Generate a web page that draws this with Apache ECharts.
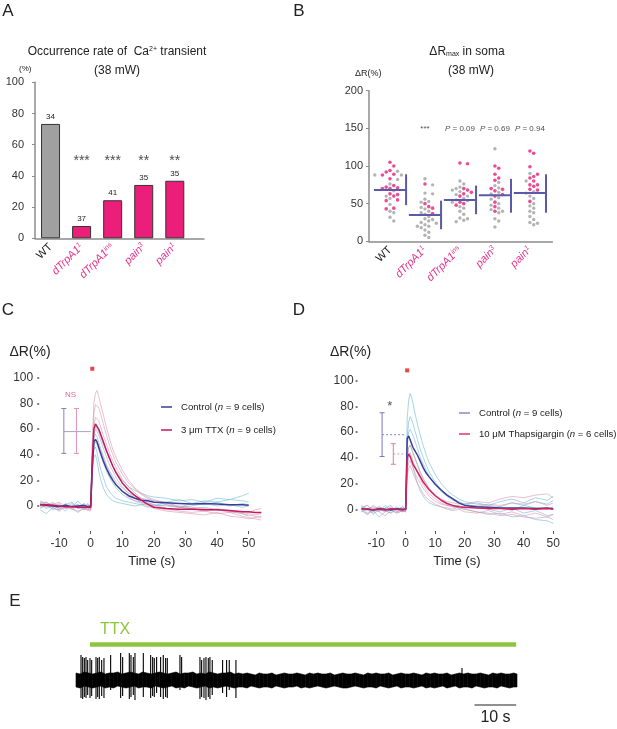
<!DOCTYPE html>
<html>
<head>
<meta charset="utf-8">
<script src="https://cdn.jsdelivr.net/npm/echarts@6/dist/echarts.min.js"></script>
<style>
html, body { margin: 0; padding: 0; background: #fff; }
#main { width: 617px; height: 729px; }
</style>
</head>
<body>
<div id="main"></div>
<script>
const FONT = 'Liberation Sans, Arial, sans-serif';
const PINK = '#e4358c';

// ---------- A: occurrence rate ----------
const genoName = ['WT', 'dTrpA1', 'dTrpA1', 'pain', 'pain'];
const genoSup = ['', '1', 'ins', '3', '1'];
const rateA = [73.3, 7.9, 24.4, 34.2, 36.9];
const nA = [34, 37, 41, 35, 35];
const sigA = ['', '***', '***', '**', '**'];
const sigLevelA = 49.5;

// ---------- B: dR max in soma ----------
const pinkB = [
	[105, 100, 94, 92, 89, 88, 83, 74, 72, 71, 70, 70, 63, 62, 60, 55, 54, 44, 43],
	[76, 50, 46, 44, 37],
	[104, 103, 70, 68, 65, 63, 60, 52, 50, 48],
	[100, 97, 89, 84, 81, 70, 69, 67, 62, 60, 52, 46, 40],
	[120, 117, 99, 89, 86, 84, 80, 75, 75, 73, 69, 68, 53]
];
const grayB = [
	[93, 88, 88, 82, 76, 67, 60, 57, 49, 40, 38, 32, 27],
	[83, 75, 64, 63, 56, 53, 52, 45, 43, 40, 38, 36, 33, 30, 29, 27, 25, 24, 22, 20, 20, 18, 15, 12, 8, 5],
	[80, 76, 72, 70, 68, 66, 62, 60, 57, 55, 54, 52, 46, 44, 40, 36, 31, 30, 28, 26],
	[123, 78, 74, 71, 65, 63, 58, 56, 50, 48, 44, 42, 40, 38, 30, 27, 19],
	[90, 80, 66, 64, 60, 57, 50, 47, 44, 40, 38, 33, 29, 25, 24, 22]
];
const meanB = [68, 35, 55, 61, 64];
const sdLoB = [48, 16, 36, 38, 38];
const sdHiB = [89, 54, 74, 83, 89];
const pLabelB = ['', '***', '0.09', '0.69', '0.94'];
const pLevelB = 150;

// ---------- C: TTX traces ----------
const T_C = [-16, -14, -12, -10, -8, -6, -4, -2, -1, 0, 0.5, 1, 1.5, 2, 2.5, 3, 4, 5, 6, 7, 8, 10, 12, 14, 16, 18, 20, 24, 28, 32, 36, 40, 44, 48, 50, 52, 54];
const C_ctrlMean = [1, 0.5, 0, -0.5, 0.5, -0.5, 0, 0.5, -0.5, 0, 30, 50, 52, 50, 46, 42, 35, 29, 24, 20, 16.5, 11.5, 8, 6, 4.5, 4, 3, 2.5, 2, 1.5, 2, 1.5, 1, 1, 0.5, null, null];
const C_ttxMean = [1, 1, 0.5, 0, -0.5, -0.5, -1, -1, -1, -1, 35, 60, 64, 63, 60, 57, 50, 43, 37, 31, 26, 18, 12.5, 8, 4.5, 1.5, -1, -2, -2.5, -2.5, -3, -3, -3.5, -4.5, -4.5, -5, -5];
const C_ctrlCells = [
	[3, -2, 1, -3, 2, -1, 4, -2, 1, 0, 28, 44, 46, 42, 36, 30, 22, 15, 11, 8, 6, 4, 3, 2, 1, 2, 0, 3, -1, 2, 1, 3, 0, 2, 1, null, null],
	[-2, 1, -3, 0, -4, 1, -2, 0, -1, 1, 34, 53, 56, 54, 50, 46, 39, 32, 27, 23, 19, 14, 10, 8, 6, 5, 4, 3, 5, 2, 4, 3, 5, 4, 3, null, null],
	[2, 0, 3, -1, 1, 3, -1, 2, 0, -1, 38, 58, 62, 61, 58, 55, 48, 42, 36, 31, 27, 20, 15, 12, 10, 8, 7, 6, 4, 5, 3, 6, 5, 8, 10, null, null],
	[0, 3, -1, 2, -2, 0, 1, -3, 2, 0, 30, 47, 50, 48, 45, 41, 34, 27, 22, 18, 14, 9, 6, 4, 3, 2, 1, 0, -1, -2, -1, -3, -4, -6, -8, null, null],
	[-3, -6, -1, -4, 0, -2, -5, -1, -3, -2, 25, 38, 40, 35, 28, 22, 14, 9, 6, 4, 3, 2, 1, 0, 1, -1, 0, 1, -1, 0, 2, 0, 1, -1, 0, null, null]
];
const C_ttxCells = [
	[4, 2, 1, 3, 0, -1, 1, -2, 0, -1, 50, 80, 88, 90, 86, 81, 71, 61, 52, 44, 38, 28, 20, 14, 10, 7, 5, 2, 0, -1, -2, -3, -4, -6, -7, -8, -9],
	[2, 3, 0, 1, -2, 0, -1, -3, -2, -2, 45, 72, 79, 80, 77, 73, 64, 55, 47, 40, 34, 25, 18, 13, 9, 6, 4, 1, -1, -2, -3, -2, -4, -5, -6, -7, -6],
	[0, -1, 2, -2, 1, -3, 0, -1, -3, -2, 40, 63, 69, 70, 67, 63, 55, 48, 41, 35, 30, 21, 15, 10, 6, 3, 1, -2, -4, -5, -4, -6, -5, -8, -9, -10, -11],
	[3, 1, -1, 0, -1, 2, -2, 0, -1, -3, 35, 55, 60, 59, 56, 52, 45, 38, 32, 27, 22, 15, 10, 6, 3, 1, -1, -3, -3, -2, -4, -3, -5, -4, -5, -3, -2],
	[-1, 0, -2, -3, -1, -2, -4, -2, -3, -4, 30, 47, 52, 51, 48, 44, 37, 31, 26, 21, 17, 11, 7, 4, 2, 0, -2, -4, -5, -6, -7, -5, -8, -9, -10, -9, -8]
];
// error bars: [time, low, high]
const C_errCtrl = [[-8.5, 41, 76]];
const C_errTtx = [[-4.5, 41, 76]];
const C_meanLink = [[-8.5, 58], [0, 58]];
const C_stim = [[0.5, 107]];
const C_note = [[-6.4, 87]];
const timeTicks = [-10, 0, 10, 20, 30, 40, 50];
const dRTicks = [0, 20, 40, 60, 80, 100];

// ---------- D: Thapsigargin traces ----------
const T_D = [-15, -13, -11, -9, -7, -5, -3, -1, 0, 0.5, 1, 1.5, 2, 2.5, 3, 4, 5, 6, 7, 8, 10, 12, 14, 16, 18, 20, 24, 28, 32, 36, 40, 44, 48, 50];
const D_ctrlMean = [0.5, 0, -0.5, 0.5, 0, -0.5, 0.5, 0, 0, 55, 57, 54, 51, 48, 46, 42, 37, 32, 28, 25, 19.5, 15, 11, 8, 5, 3, 2, 1.5, 1, 1, 1, 0.5, 1, 0.5];
const D_thapMean = [0, 0.5, -0.5, 0, -0.5, 0.5, 0, -0.5, 0, 40, 43, 41, 38, 35, 33, 29, 25, 21, 18, 15, 10.5, 7, 4.5, 3, 2, 1.5, 1, 0.5, 0.5, 0, 0.5, 0, 0.5, 0];
const D_ctrlCells = [
	[2, -3, 1, -2, 3, -1, 0, 2, 0, 70, 85, 90, 87, 82, 76, 66, 57, 49, 42, 36, 27, 20, 15, 11, 8, 6, 4, 3, 2, 5, 3, 6, 4, 7],
	[-2, 1, -4, 0, -1, -3, 1, -2, -1, 55, 68, 72, 70, 66, 62, 54, 46, 40, 34, 29, 21, 15, 11, 8, 6, 4, 2, 0, -2, 1, -3, -1, -5, -4],
	[3, 0, 2, -1, 1, 3, -2, 1, 0, 48, 60, 62, 60, 57, 54, 47, 40, 35, 30, 26, 19, 14, 10, 7, 5, 4, 5, 3, 6, 8, 5, 9, 7, 10],
	[0, -4, -1, -6, -2, 0, -3, -1, -2, 40, 48, 50, 47, 44, 41, 35, 29, 24, 20, 16, 11, 7, 4, 2, 1, 0, -2, -4, -3, -6, -5, -8, -9, -11],
	[1, 3, -2, 2, 0, -1, 2, -2, 1, 34, 40, 42, 38, 33, 28, 20, 14, 10, 7, 5, 3, 2, 1, 0, 2, 1, 3, 0, 2, -1, 3, 1, 0, 2]
];
const D_thapCells = [
	[2, -1, 3, 0, -2, 1, -1, 2, 0, 40, 48, 50, 47, 43, 40, 34, 28, 23, 19, 16, 11, 8, 6, 5, 4, 4, 6, 5, 8, 10, 9, 11, 12, 9],
	[-2, 0, -3, 1, -1, -3, 0, -2, -1, 35, 42, 44, 41, 37, 34, 28, 23, 19, 15, 12, 8, 5, 3, 2, 1, 0, -2, -3, -5, -4, -6, -7, -6, -8],
	[1, 3, 0, 2, -1, 2, -2, 0, 1, 30, 36, 38, 35, 32, 29, 24, 20, 16, 13, 10, 6, 4, 3, 2, 3, 1, 2, 4, 3, 5, 4, 6, 3, 5],
	[-1, -4, 0, -2, -5, -1, -3, -1, -2, 26, 32, 34, 31, 28, 25, 20, 16, 12, 9, 7, 4, 2, 0, -1, 0, -2, -3, -1, -4, -2, -5, -3, -6, -4]
];
const D_errCtrl = [[-8, 41, 75]];
const D_errThap = [[-4.2, 35, 51]];
const D_linkCtrl = [[-8, 58], [0, 58]];
const D_linkThap = [[-4.2, 43], [0, 43]];
const D_stim = [[0.5, 108]];
const D_note = [[-5.4, 80]];

// ---------- E: extracellular recording ----------
const E_T = [
	0, 1, 2, 3, 4, 5, 6, 7, 8, 9, 10, 11, 12, 13, 14, 15, 16, 17, 18, 19,
	20, 21, 22, 23, 24, 25, 26, 27, 28, 29, 30, 31, 32, 33, 34, 35, 36, 37, 38, 39,
	40, 41, 42, 43, 44, 45, 46, 47, 48, 49, 50, 51, 52, 53, 54, 55, 56, 57, 58, 59,
	60, 61, 62, 63, 64, 65, 66, 67, 68, 69, 70, 71, 72, 73, 74, 75, 76, 77, 78, 79,
	80, 81, 82, 83, 84, 85, 86, 87, 88, 89, 90, 91, 92, 93, 94, 95, 96, 97, 98, 99,
	100, 101, 102, 103, 104, 105, 105.8
];
const E_hi = [
	7, 6, 8, 7, 6, 7, 8, 6, 7, 7, 8, 6, 7, 8, 7, 6, 8, 7, 6, 7,
	8, 7, 6, 7, 8, 6, 7, 7, 8, 6, 7, 6, 8, 7, 6, 7, 7, 8, 6, 7,
	6, 7, 6, 5, 7, 6, 6, 7, 5, 6, 7, 6, 6, 7, 6, 5, 7, 6, 7, 6,
	6, 7, 5, 6, 7, 6, 6, 7, 6, 5, 7, 6, 7, 6, 6, 7, 5, 6, 7, 6,
	6, 7, 6, 5, 7, 6, 7, 6, 6, 7, 5, 6, 7, 6, 7, 6, 6, 7, 6, 5,
	7, 6, 7, 6, 6, 7, 6
];
const E_lo = [
	-7, -8, -6, -7, -8, -7, -6, -8, -7, -8, -6, -7, -8, -7, -6, -8, -7, -7, -8, -6,
	-7, -8, -7, -6, -8, -7, -8, -6, -7, -8, -7, -6, -8, -7, -8, -7, -6, -7, -8, -7,
	-7, -8, -6, -7, -8, -7, -7, -8, -6, -7, -8, -7, -7, -6, -8, -7, -8, -7, -6, -7,
	-8, -7, -6, -7, -8, -8, -7, -6, -7, -8, -7, -7, -8, -6, -7, -8, -7, -6, -8, -7,
	-7, -8, -7, -6, -8, -7, -8, -7, -6, -8, -7, -6, -8, -7, -7, -8, -6, -7, -8, -7,
	-7, -8, -6, -7, -8, -7, -7
];
// spikes: [time (s), trough, peak]
const E_spikes = [
	[1.20, -18, 25], [1.60, -19, 23], [2.00, -17, 22], [2.40, -18, 23], [2.80, -15, 20],
	[3.36, -18, 22], [3.76, -16, 20], [4.80, -19, 23], [5.20, -17, 22], [5.59, -19, 23],
	[6.16, -16, 20], [6.71, -18, 22], [8.31, -10, 25], [10.71, -18, 27], [11.19, -16, 23],
	[12.79, -19, 27], [13.19, -17, 25], [13.75, -15, 23], [14.15, -20, 27], [16.15, -17, 27],
	[17.91, -18, 25], [18.39, -16, 23], [18.78, -17, 22], [19.34, -13, 23], [20.30, -17, 23],
	[20.94, -19, 25], [21.50, -17, 22], [21.90, -18, 22], [24.94, -10, 25], [25.34, -7, 23],
	[29.74, -19, 23], [30.14, -17, 20], [30.70, -18, 22], [31.18, -20, 23], [31.74, -17, 22],
	[32.13, -19, 23], [32.69, -15, 20], [35.17, -13, 20], [36.13, -17, 20], [36.77, -10, 20],
	[38.37, -18, 20], [92.6, -6, 12]
];
const E_drug = [[3.36, 35.5], [105.6, 35.5]];
const E_scale = [[95.6, -25], [105.6, -25]];

// ---------- helpers ----------
const genoLabel = function (i) {
	if (i === 0) {
		return '{w|WT}';
	}
	return '{g|' + genoName[i] + '}{s|' + genoSup[i] + '}';
};

const genoRich = {
	w: { color: '#222', fontSize: 11, fontFamily: FONT },
	g: { color: PINK, fontSize: 11, fontStyle: 'italic', fontFamily: FONT },
	s: { color: PINK, fontSize: 7, fontStyle: 'italic', fontFamily: FONT, verticalAlign: 'top', padding: [0, 0, 5, 0] }
};

// bee swarm (pixel based): B axis is ~35 px per group, ~0.753 px per %
const swarm = function (ci, pink, gray) {
	const pts = pink.map(v => ({ v: v, pink: true })).concat(gray.map(v => ({ v: v, pink: false })));
	pts.sort((a, b) => b.v - a.v);
	const placed = [];
	const step = 3.8, minD = 3.9;
	pts.forEach(p => {
		const py = p.v * 0.753;
		for (let n = 0; n < 20; n++) {
			const k = n === 0 ? 0 : (n % 2 ? (n + 1) / 2 : -n / 2);
			const px = k * step;
			const ok = placed.every(q => (q.px - px) * (q.px - px) + (q.py - py) * (q.py - py) >= minD * minD);
			if (ok) {
				p.px = px;
				p.py = py;
				placed.push(p);
				break;
			}
		}
		p.x = ci + p.px / 35;
	});
	return pts;
};

const pinkDots = [];
const grayDots = [];
pinkB.forEach((arr, ci) => {
	swarm(ci, arr, grayB[ci]).forEach(p => {
		(p.pink ? pinkDots : grayDots).push([p.x, p.v]);
	});
});

const trace = function (ai, T, arr, color, width, name, z) {
	return {
		type: 'line',
		name: name,
		xAxisIndex: ai,
		yAxisIndex: ai,
		data: T.map((t, i) => [t, arr[i]]),
		showSymbol: false,
		symbol: 'none',
		silent: true,
		lineStyle: { color: color, width: width },
		itemStyle: { color: color },
		z: z
	};
};

const errBar = function (ai, data, color) {
	return {
		type: 'custom',
		xAxisIndex: ai,
		yAxisIndex: ai,
		data: data,
		silent: true,
		z: 5,
		renderItem: function (params, api) {
			const x = api.value(0);
			const a = api.coord([x, api.value(1)]);
			const b = api.coord([x, api.value(2)]);
			const s = { stroke: color, lineWidth: 1 };
			return {
				type: 'group',
				children: [
					{ type: 'line', shape: { x1: a[0], y1: a[1], x2: b[0], y2: b[1] }, style: s },
					{ type: 'line', shape: { x1: a[0] - 2.5, y1: a[1], x2: a[0] + 2.5, y2: a[1] }, style: s },
					{ type: 'line', shape: { x1: b[0] - 2.5, y1: b[1], x2: b[0] + 2.5, y2: b[1] }, style: s }
				]
			};
		}
	};
};

const note = function (ai, data, text, color, size) {
	return {
		type: 'scatter',
		xAxisIndex: ai,
		yAxisIndex: ai,
		data: data,
		symbolSize: 0,
		silent: true,
		label: { show: true, position: 'inside', formatter: text, color: color, fontSize: size, fontFamily: FONT }
	};
};

const text = function (x, y, str, size, extra) {
	return {
		type: 'text',
		x: x,
		y: y,
		style: Object.assign({
			text: str,
			fontSize: size,
			fontFamily: FONT,
			fill: '#222',
			align: 'center',
			verticalAlign: 'middle',
			textAlign: 'center',
			textVerticalAlign: 'middle'
		}, extra || {})
	};
};

// ---------- axes ----------
const catAxis = function (gi, min, max) {
	return {
		type: 'value', gridIndex: gi, min: min, max: max,
		axisLine: { show: true, onZero: false, lineStyle: { color: '#8c8c8c', width: 1.5 } },
		axisTick: { show: false },
		splitLine: { show: false },
		axisLabel: {
			customValues: [0, 1, 2, 3, 4],
			rotate: 45, margin: 7,
			formatter: v => genoLabel(Math.round(v)),
			rich: genoRich
		}
	};
};

const timeAxis = function (gi, min, max) {
	return {
		type: 'value', gridIndex: gi, min: min, max: max,
		axisLine: { show: false, onZero: false },
		axisTick: { show: true, length: 3, customValues: timeTicks, lineStyle: { color: '#555' } },
		axisLabel: { customValues: timeTicks, fontSize: 12, color: '#333', margin: 7, fontFamily: FONT },
		splitLine: { show: false },
		name: 'Time (s)', nameLocation: 'middle', nameGap: 24,
		nameTextStyle: { fontSize: 13, color: '#222', fontFamily: FONT }
	};
};

const dRAxis = function (gi, min, max, margin) {
	return {
		type: 'value', gridIndex: gi, min: min, max: max,
		axisLine: { show: false, onZero: false },
		axisTick: { show: true, length: 2, customValues: dRTicks, lineStyle: { color: '#555', width: 1.5 } },
		axisLabel: { customValues: dRTicks, fontSize: 12, color: '#333', margin: margin, fontFamily: FONT },
		splitLine: { show: false }
	};
};

const legendNames = {
	cCtrl: '{t|Control (}{i|n}{t| = 9 cells)}',
	cTtx: '{t|3 μm TTX (}{i|n}{t| = 9 cells)}',
	dCtrl: '{t|Control (}{i|n}{t| = 9 cells)}',
	dThap: '{t|10 μM Thapsigargin (}{i|n}{t| = 6 cells)}'
};
const legendRich = {
	t: { fontSize: 9.6, color: '#222', fontFamily: FONT },
	i: { fontSize: 9.6, color: '#222', fontStyle: 'italic', fontFamily: FONT }
};

const chart = echarts.init(document.getElementById('main'));

const options = {
	animation: false,
	backgroundColor: '#fff',
	textStyle: { fontFamily: FONT },
	grid: [
		{ left: 35, top: 82.3, width: 169, height: 156, outerBoundsMode: 'none' },
		{ left: 369, top: 90.7, width: 183.3, height: 150.6, outerBoundsMode: 'none' },
		{ left: 39.2, top: 364.9, width: 225.3, height: 166.1, outerBoundsMode: 'none' },
		{ left: 357.6, top: 367.8, width: 198.6, height: 163.2, outerBoundsMode: 'none' },
		{ left: 76, top: 620, width: 441, height: 105, outerBoundsMode: 'none' }
	],
	xAxis: [
		catAxis(0, -0.5, 4.94),
		catAxis(1, -0.6, 4.64),
		timeAxis(2, -16.3, 55),
		timeAxis(3, -16.3, 51),
		{ type: 'value', gridIndex: 4, min: 0, max: 105.8, show: false }
	],
	yAxis: [
		{
			type: 'value', gridIndex: 0, min: 0, max: 100, interval: 20,
			axisLine: { show: true, onZero: false, lineStyle: { color: '#8c8c8c', width: 1.5 } },
			axisTick: { show: true, length: 3, lineStyle: { color: '#8c8c8c' } },
			axisLabel: { fontSize: 11, color: '#333', margin: 11, fontFamily: FONT },
			splitLine: { show: false }
		},
		{
			type: 'value', gridIndex: 1, min: 0, max: 200, interval: 50,
			axisLine: { show: true, onZero: false, lineStyle: { color: '#8c8c8c', width: 1.5 } },
			axisTick: { show: true, length: 3, lineStyle: { color: '#8c8c8c' } },
			axisLabel: { fontSize: 11, color: '#333', margin: 6, fontFamily: FONT },
			splitLine: { show: false }
		},
		dRAxis(2, -19.5, 110, 6),
		dRAxis(3, -16.9, 110, 4),
		{ type: 'value', gridIndex: 4, min: -45, max: 60, show: false }
	],
	legend: [
		{
			left: 161, top: 402, orient: 'vertical', padding: 0, itemGap: 13,
			icon: 'rect', itemWidth: 11, itemHeight: 1.5,
			data: ['cCtrl', 'cTtx'],
			formatter: name => legendNames[name],
			textStyle: { rich: legendRich, padding: [0, 0, 0, 4] }
		},
		{
			left: 459, top: 408, orient: 'vertical', padding: 0, itemGap: 11,
			icon: 'rect', itemWidth: 11, itemHeight: 1.5,
			data: [
				{ name: 'dCtrl', itemStyle: { color: '#8a88c8' } },
				{ name: 'dThap', itemStyle: { color: '#d63a6a' } }
			],
			formatter: name => legendNames[name],
			textStyle: { rich: legendRich, padding: [0, 0, 0, 4] }
		}
	],
	graphic: [
		text(8, 11, 'A', 17),
		text(299, 11, 'B', 17),
		text(8, 310, 'C', 17),
		text(299, 310, 'D', 17),
		text(15, 601, 'E', 17),
		text(117, 51.7, '{t|Occurrence rate of  Ca}{u|2+}{t| transient}', 12, {
			rich: {
				t: { fontSize: 12, fontFamily: FONT, fill: '#222' },
				u: { fontSize: 7, fontFamily: FONT, fill: '#222', verticalAlign: 'top', padding: [0, 0, 6, 0] }
			}
		}),
		text(117, 71, '(38 mW)', 12),
		text(25.3, 68.7, '(%)', 8),
		text(467, 51.7, '{t|ΔR}{d|max}{t| in soma}', 12, {
			rich: {
				t: { fontSize: 12, fontFamily: FONT, fill: '#222' },
				d: { fontSize: 7, fontFamily: FONT, fill: '#222', verticalAlign: 'bottom', padding: [4, 0, 0, 0] }
			}
		}),
		text(471, 71, '(38 mW)', 12),
		text(368.3, 74, 'ΔR(%)', 9),
		text(30, 351.7, 'ΔR(%)', 14),
		text(350.5, 351.7, 'ΔR(%)', 14),
		text(115, 629.5, 'TTX', 16, { fill: '#8cc63f' }),
		text(495.5, 718, '10 s', 16)
	],
	series: [
		// ----- A -----
		{
			type: 'bar',
			xAxisIndex: 0, yAxisIndex: 0,
			barWidth: 19,
			data: rateA.map((v, i) => ({
				value: [i, v],
				itemStyle: { color: i === 0 ? '#a0a0a0' : '#eb1e7a', borderColor: '#333', borderWidth: 1 }
			})),
			label: {
				show: true, position: 'top', distance: 3,
				fontSize: 8, color: '#222', fontFamily: FONT,
				formatter: p => String(nA[p.dataIndex])
			}
		},
		{
			type: 'scatter', xAxisIndex: 0, yAxisIndex: 0, symbolSize: 0, silent: true,
			data: sigA.map((s, i) => [i, sigLevelA]),
			label: {
				show: true, position: 'inside', fontSize: 14, color: '#222', fontFamily: FONT,
				formatter: p => sigA[p.dataIndex]
			}
		},
		// ----- B -----
		{
			type: 'scatter', xAxisIndex: 1, yAxisIndex: 1, symbolSize: 3.4, silent: true,
			itemStyle: { color: '#a0a0a0' },
			data: grayDots
		},
		{
			type: 'scatter', xAxisIndex: 1, yAxisIndex: 1, symbolSize: 3.6, silent: true,
			itemStyle: { color: '#e5207a' },
			data: pinkDots
		},
		{
			type: 'custom', xAxisIndex: 1, yAxisIndex: 1, silent: true, z: 4,
			data: meanB.map((m, i) => [i, m, sdLoB[i], sdHiB[i]]),
			renderItem: function (params, api) {
				const c = api.value(0);
				const a = api.coord([c - 0.46, api.value(1)]);
				const b = api.coord([c + 0.46, api.value(1)]);
				const lo = api.coord([c + 0.46, api.value(2)]);
				const hi = api.coord([c + 0.46, api.value(3)]);
				const s = { stroke: '#5a5aa8', lineWidth: 2 };
				return {
					type: 'group',
					children: [
						{ type: 'line', shape: { x1: a[0], y1: a[1], x2: b[0], y2: b[1] }, style: s },
						{ type: 'line', shape: { x1: lo[0], y1: lo[1], x2: hi[0], y2: hi[1] }, style: s }
					]
				};
			}
		},
		{
			type: 'scatter', xAxisIndex: 1, yAxisIndex: 1, symbolSize: 0, silent: true,
			data: pLabelB.map((s, i) => [i, pLevelB]),
			label: {
				show: true, position: 'inside', fontSize: 8, color: '#222', fontFamily: FONT,
				formatter: p => {
					const s = pLabelB[p.dataIndex];
					if (s === '' || s.indexOf('*') >= 0) {
						return s;
					}
					return '{i|P}{t| = ' + s + '}';
				},
				rich: {
					i: { fontSize: 8, fontStyle: 'italic', color: '#222', fontFamily: FONT },
					t: { fontSize: 8, color: '#222', fontFamily: FONT }
				}
			}
		},
		// ----- C -----
		...C_ctrlCells.map(a => trace(2, T_C, a, 'rgba(110,185,212,0.6)', 1, null, 2)),
		...C_ttxCells.map(a => trace(2, T_C, a, 'rgba(214,140,170,0.55)', 1, null, 2)),
		trace(2, T_C, C_ctrlMean, '#3a3c98', 1.5, 'cCtrl', 4),
		trace(2, T_C, C_ttxMean, '#c4195e', 1.5, 'cTtx', 4),
		errBar(2, C_errCtrl, '#8a80b8'),
		errBar(2, C_errTtx, '#e296b4'),
		{
			type: 'line', xAxisIndex: 2, yAxisIndex: 2, data: C_meanLink, symbol: 'none', silent: true,
			lineStyle: { color: '#a8a2cc', width: 1 }
		},
		{
			type: 'scatter', xAxisIndex: 2, yAxisIndex: 2, data: C_stim, symbol: 'rect', symbolSize: 4,
			itemStyle: { color: '#e8141a' }, silent: true
		},
		note(2, C_note, 'NS', '#e0408a', 8),
		// ----- D -----
		...D_ctrlCells.map(a => trace(3, T_D, a, 'rgba(110,185,212,0.6)', 1, null, 2)),
		...D_thapCells.map(a => trace(3, T_D, a, 'rgba(214,140,170,0.55)', 1, null, 2)),
		trace(3, T_D, D_ctrlMean, '#3a3c98', 1.5, 'dCtrl', 4),
		trace(3, T_D, D_thapMean, '#d0205e', 1.5, 'dThap', 4),
		errBar(3, D_errCtrl, '#7a76b8'),
		errBar(3, D_errThap, '#e27a98'),
		{
			type: 'line', xAxisIndex: 3, yAxisIndex: 3, data: D_linkCtrl, symbol: 'none', silent: true,
			lineStyle: { color: '#8a86c0', width: 1, type: [2, 2] }
		},
		{
			type: 'line', xAxisIndex: 3, yAxisIndex: 3, data: D_linkThap, symbol: 'none', silent: true,
			lineStyle: { color: '#e890aa', width: 1, type: [2, 2] }
		},
		{
			type: 'scatter', xAxisIndex: 3, yAxisIndex: 3, data: D_stim, symbol: 'rect', symbolSize: 4,
			itemStyle: { color: '#e8141a' }, silent: true
		},
		note(3, D_note, '*', '#222', 13),
		// ----- E -----
		{
			type: 'custom', xAxisIndex: 4, yAxisIndex: 4, silent: true, z: 2,
			data: E_T.slice(0, -1).map((t, i) => [t, E_lo[i], E_hi[i]]),
			renderItem: function (params, api) {
				const i = params.dataIndex;
				const pts = [
					api.coord([E_T[i], E_hi[i]]),
					api.coord([E_T[i + 1], E_hi[i + 1]]),
					api.coord([E_T[i + 1], E_lo[i + 1]]),
					api.coord([E_T[i], E_lo[i]])
				];
				return {
					type: 'polygon',
					shape: { points: pts },
					style: { fill: '#000', stroke: '#000', lineWidth: 0.6 }
				};
			}
		},
		{
			type: 'custom', xAxisIndex: 4, yAxisIndex: 4, silent: true, z: 3,
			data: E_spikes,
			renderItem: function (params, api) {
				const x = api.value(0);
				const a = api.coord([x, api.value(1)]);
				const b = api.coord([x, api.value(2)]);
				return {
					type: 'line',
					shape: { x1: a[0], y1: a[1], x2: b[0], y2: b[1] },
					style: { stroke: '#000', lineWidth: 1.1 }
				};
			}
		},
		{
			type: 'line', xAxisIndex: 4, yAxisIndex: 4, data: E_drug, symbol: 'none', silent: true,
			lineStyle: { color: '#8cc63f', width: 4.5, cap: 'butt' }
		},
		{
			type: 'line', xAxisIndex: 4, yAxisIndex: 4, data: E_scale, symbol: 'none', silent: true,
			lineStyle: { color: '#222', width: 1.2 }
		}
	]
};

chart.setOption(options);
</script>
</body>
</html>
